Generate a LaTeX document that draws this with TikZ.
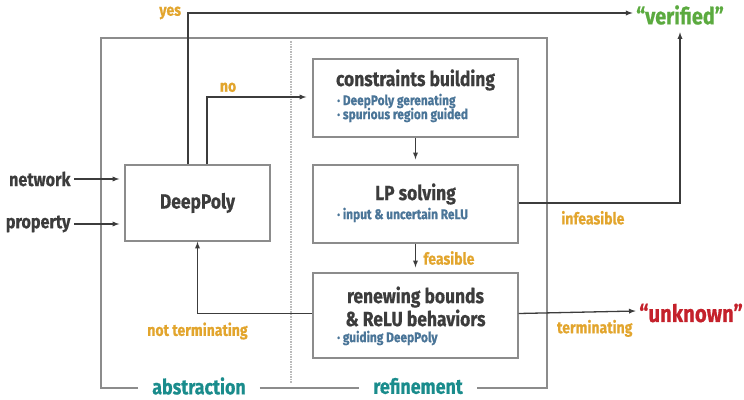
\documentclass[tikz,border=0pt]{standalone}
\usepackage{fontspec}
\setmainfont[FakeStretch=0.85,BoldFeatures={FakeBold=0.6}]{Fira Sans}
\usepackage{xcolor}
\usetikzlibrary{arrows,calc,positioning}
\definecolor{headgray}{HTML}{3C3C3C}
\definecolor{noteblue}{HTML}{4A7598}
\definecolor{lblgold}{HTML}{E2A52D}
\definecolor{okgreen}{HTML}{5BAA3F}
\definecolor{badred}{HTML}{C4212B}
\definecolor{partteal}{HTML}{1A8C8C}
\definecolor{framegray}{HTML}{8C8C8C}
\tikzset{%
	block/.style  = {draw=framegray, line width=1.4pt, rectangle, fill=white}, % stage box
	head/.style   = {font=\fontsize{20.5}{23}\selectfont\bfseries, text=headgray, align=center},
	note/.style   = {font=\fontsize{14}{16}\selectfont\bfseries, text=noteblue, anchor=west, inner sep=0pt},
	lbl/.style    = {font=\fontsize{16.5}{18}\selectfont\bfseries, text=lblgold},
	io/.style     = {font=\fontsize{19}{22}\selectfont\bfseries, text=headgray}, % input
	part/.style   = {font=\fontsize{21}{24}\selectfont\bfseries, text=partteal, inner sep=14pt},
	frame/.style  = {draw=framegray, line width=1.4pt},
	arrow/.style  = {draw=headgray, line width=1.3pt, -latex},
}
\begin{document}
\begin{tikzpicture}[x=1pt,y=-1pt]
		\useasboundingbox (0,0) rectangle (744,399);
		% stages
		\node [block, minimum width=145pt, minimum height=76pt] (dp) at (197.5,203) {};
		\node [head] (dph) at (dp.center) {DeepPoly};
		\node [block, minimum width=205pt, minimum height=78pt] (cb) at (415.5,98) {};
		\node [head] (cbh) at (415.5,80) {constraints building};
		\node [note] (cbn1) at (337,101) {· DeepPoly gerenating};
		\node [note] (cbn2) at (337,115) {· spurious region guided};
		\node [block, minimum width=205pt, minimum height=78pt] (lp) at (415.5,204) {};
		\node [head] (lph) at (415.5,194) {LP solving};
		\node [note] (lpn) at (337,215) {· input \& uncertain ReLU};
		\node [block, minimum width=205pt, minimum height=85pt] (rb) at (415.5,315.5) {};
		\node [head] (rbh) at (415.5,306.5) {renewing bounds\\\& ReLU behaviors};
		\node [note] (rbn) at (337,338) {· guiding DeepPoly};
		
		% inputs and outcomes
		\node [io, anchor=east] (net) at (74,179) {network};
		\node [io, anchor=east] (prop) at (74,224) {property};
		\node [font=\fontsize{23.5}{26}\selectfont\bfseries, text=okgreen] (ver) at (680,15) {“verified”};
		\node [font=\fontsize{24}{27}\selectfont\bfseries, text=badred] (unk) at (691,313) {“unknown”};
		
		% frame
		\node [part] (abs) at (199,386) {abstraction};
		\node [part] (ref) at (418,386) {refinement};
		\draw [frame] (abs.west |- 0,388) -- (101,388) -- (101,38) -- (547,38) -- (547,388) -- (ref.east |- 0,388);
		\draw [frame] (abs.east |- 0,388) -- (ref.west |- 0,388);
		\draw [framegray!60, line width=1.5pt, densely dotted] (291,41) -- (291,383);
		
		\draw[arrow, shorten >=5pt] (net.east) -- (net.east -| dp.west);
		\draw[arrow, shorten >=5pt] (prop.east) -- (prop.east -| dp.west);
		\draw[arrow] ([xshift=-9.5pt]dp.north) |- node[lbl, pos=0.5, left=3pt] {yes} ([yshift=2pt]ver.west);
		\draw[arrow, shorten >=6pt] ([xshift=9.5pt]dp.north) |- node[lbl, pos=0.6, above=1pt] {no} ([yshift=1pt]cb.west);
		\draw[arrow, shorten >=5pt] (cb.south) -- (lp.north);
		\draw[arrow, shorten >=5pt] (lp.south) -- node[lbl, right=4pt] {feasible} (rb.north);
		\draw[arrow] ([yshift=1pt]lp.east) -| node[lbl, pos=0.23, below=4pt] {infeasible} ([yshift=-4pt]ver.south);
		\draw[arrow] ([yshift=2pt]rb.east) -- node[lbl, pos=0.65, below=4pt] {terminating} ([yshift=2pt]unk.west);
		\draw[arrow] ([yshift=2pt]rb.west) -| node[lbl, pos=0.5, below=5pt] {not terminating} (dp.south);
\end{tikzpicture}
\end{document}
